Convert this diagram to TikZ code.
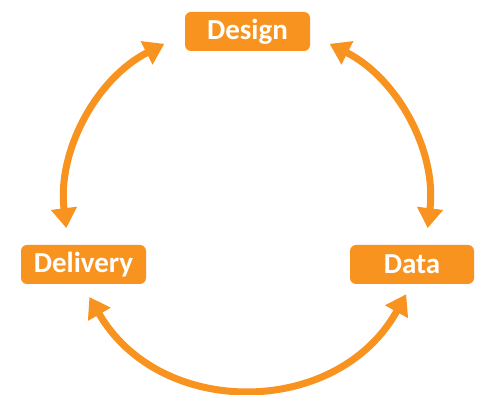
\documentclass[tikz,border=0pt]{standalone}
\usepackage{fontspec}
\setmainfont{Carlito}
\usetikzlibrary{arrows.meta}
\definecolor{cycorange}{HTML}{F7931E}
\begin{document}
\begin{tikzpicture}[
		x=1pt, y=1pt,
		base/.style={fill=cycorange, rounded corners=6pt, minimum width=125pt,
			minimum height=39pt, text=white, font=\fontsize{29}{32}\selectfont\bfseries},
		link/.style={{Triangle[length=20pt, width=25pt]}-{Triangle[length=20pt, width=25pt]},
			draw=cycorange, line width=7pt}
	]

	\useasboundingbox (0pt, 0pt) rectangle (477pt, 395pt);

	\node[base] at (247.5pt, 363.5pt) (design) {Design};
	\node[base] at (83.5pt, 130.5pt) (delivery) {Delivery};
	\node[base, minimum width=124pt] at (412pt, 130.5pt) (data) {Data};

	% ends of the arcs, on a circle round the middle
	\coordinate (middle) at (247pt, 189pt);
	\coordinate (designright) at ([shift={(63:182pt)}]middle);
	\coordinate (datatop) at ([shift={(-7:182pt)}]middle);
	\coordinate (designleft) at ([shift={(117:182pt)}]middle);
	\coordinate (deliverytop) at ([shift={(187:182pt)}]middle);
	\coordinate (deliverybottom) at ([shift={(210:182pt)}]middle);
	\coordinate (databottom) at ([shift={(331:182pt)}]middle);

	\draw[link] (designright) to[bend left=35, looseness=0.94] (datatop);
	\draw[link] (designleft) to[bend right=35, looseness=0.94] (deliverytop);
	\draw[link] (deliverybottom) to[bend right=60.5, looseness=1.14] (databottom);

\end{tikzpicture}
\end{document}
